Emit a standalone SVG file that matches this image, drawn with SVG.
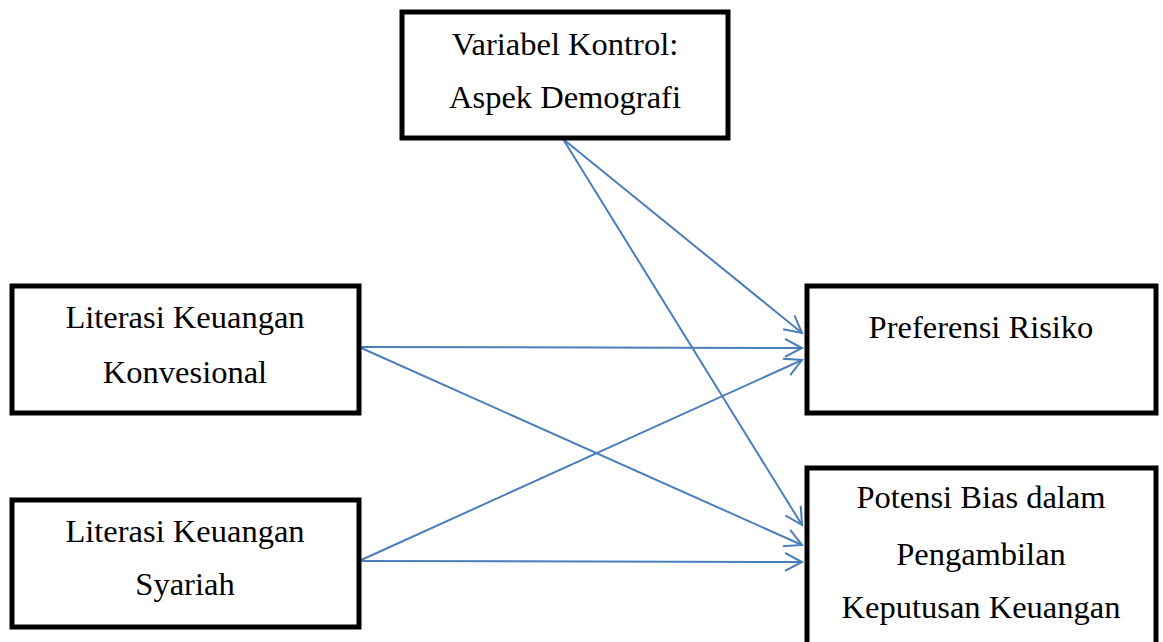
<svg xmlns="http://www.w3.org/2000/svg" width="1163" height="642" viewBox="0 0 1163 642">
<style>
.box{fill:#fff;stroke:#000;stroke-width:5}
.t{font-family:"Liberation Serif","Times New Roman",serif;font-size:32.5px;fill:#000;text-anchor:middle}
.c{stroke:#4a7ebb;stroke-width:2;fill:none;marker-end:url(#ah)}
</style>
<defs>
<marker id="ah" markerUnits="userSpaceOnUse" markerWidth="24" markerHeight="24" viewBox="-20 -12 24 24" refX="0" refY="0" orient="auto">
<path d="M-17,-9 L0,0 L-17,9" fill="none" stroke="#4a7ebb" stroke-width="2"/>
</marker>
</defs>
<rect width="1163" height="642" fill="#fff"/>
<g id="connectors">
<line class="c" x1="563" y1="139" x2="802" y2="333"/>
<line class="c" x1="563" y1="139" x2="802" y2="525"/>
<line class="c" x1="359" y1="347" x2="802" y2="348"/>
<line class="c" x1="359" y1="347" x2="802" y2="545"/>
<line class="c" x1="359" y1="561" x2="802" y2="360"/>
<line class="c" x1="359" y1="561" x2="802" y2="562"/>
</g>
<g id="kontrol">
<rect class="box" x="402" y="12" width="326" height="126"/>
<text class="t" x="565" y="55">Variabel Kontrol:</text>
<text class="t" x="565" y="108">Aspek Demografi</text>
</g>
<g id="konvensional">
<rect class="box" x="12" y="286" width="347" height="127"/>
<text class="t" x="185" y="328">Literasi Keuangan</text>
<text class="t" x="185" y="383">Konvesional</text>
</g>
<g id="syariah">
<rect class="box" x="12" y="500" width="347" height="127"/>
<text class="t" x="185" y="542">Literasi Keuangan</text>
<text class="t" x="185" y="595">Syariah</text>
</g>
<g id="risiko">
<rect class="box" x="807" y="286" width="349" height="127"/>
<text class="t" x="981" y="338">Preferensi Risiko</text>
</g>
<g id="bias">
<rect class="box" x="807" y="468" width="349" height="190"/>
<text class="t" x="981" y="508">Potensi Bias dalam</text>
<text class="t" x="981" y="565">Pengambilan</text>
<text class="t" x="981" y="618">Keputusan Keuangan</text>
</g>
</svg>
